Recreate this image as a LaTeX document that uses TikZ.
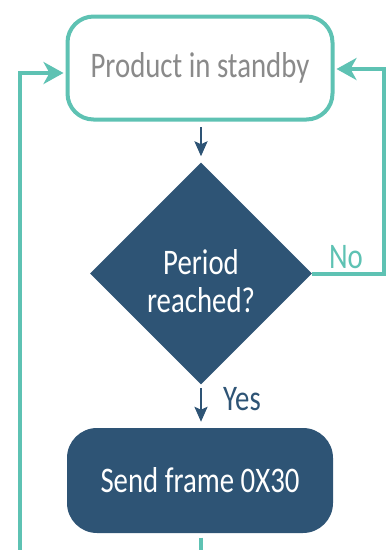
\documentclass[tikz,border=0pt]{standalone}
\usepackage{fontspec}
\setmainfont[FakeStretch=0.8]{Carlito}
\usetikzlibrary{arrows.meta,shapes.geometric}
\definecolor{flowteal}{HTML}{5EC2B3}
\definecolor{flowblue}{HTML}{2E5475}
\definecolor{flowgray}{HTML}{8A8A8A}

\begin{document}
\begin{tikzpicture}[x=1pt, y=-1pt,
  state/.style={draw=flowteal, line width=4pt, rounded corners=26pt, fill=white,
                text=flowgray, minimum width=265pt, minimum height=103pt,
                font=\fontsize{36}{38}\selectfont},
  action/.style={fill=flowblue, rounded corners=30pt, text=white,
                 minimum width=266pt, minimum height=105pt,
                 font=\fontsize{36}{38}\selectfont},
  decide/.style={diamond, fill=flowblue, minimum width=222pt,
                 minimum height=222pt, inner sep=0pt},
  tarr/.style={draw=flowteal, line width=4pt,
               -{Stealth[length=20pt,width=22pt,inset=6pt]}},
  barr/.style={draw=flowblue, line width=2.5pt,
               -{Stealth[length=15pt,width=13pt,inset=3pt]}},
  lbl/.style={font=\fontsize{36}{38}\selectfont, anchor=base}
]
  \useasboundingbox (0,0) rectangle (387,550);
  \node[state]  (standby) at (200,68)    {Product in standby};
  \node[decide, label={[text=white, align=center, yshift=-8pt,
        font=\fontsize{36}{38}\selectfont]center:Period\\reached?}]
                (period) at (201,273.5) {};
  \node[action] (send) at (200,480.5)    {Send frame 0X30};
  \node[lbl, text=flowteal] (no)  at (346,268) {No};
  \node[lbl, text=flowblue] (yes) at (242,410) {Yes};
  \coordinate (loopin) at (20,552);
  \coordinate (exit)   at (201,552);
  % main flow
  \draw[barr] ([xshift=1pt,yshift=-5.5pt]standby.south) -- ([yshift=6pt]period.north);
  \draw[barr] ([yshift=-3.5pt]period.south) -- ([xshift=1pt,yshift=6pt]send.north);
  \draw[flowteal, line width=4pt] ([xshift=1pt,yshift=-4.5pt]send.south) -- (exit);
  % loops back to standby
  \draw[tarr] (period.east) -- ++(72,0) |- ([xshift=2pt,yshift=-1pt]standby.east);
  \draw[tarr] (loopin) |- ([xshift=-2pt,yshift=-5pt]standby.west);
\end{tikzpicture}
\end{document}
